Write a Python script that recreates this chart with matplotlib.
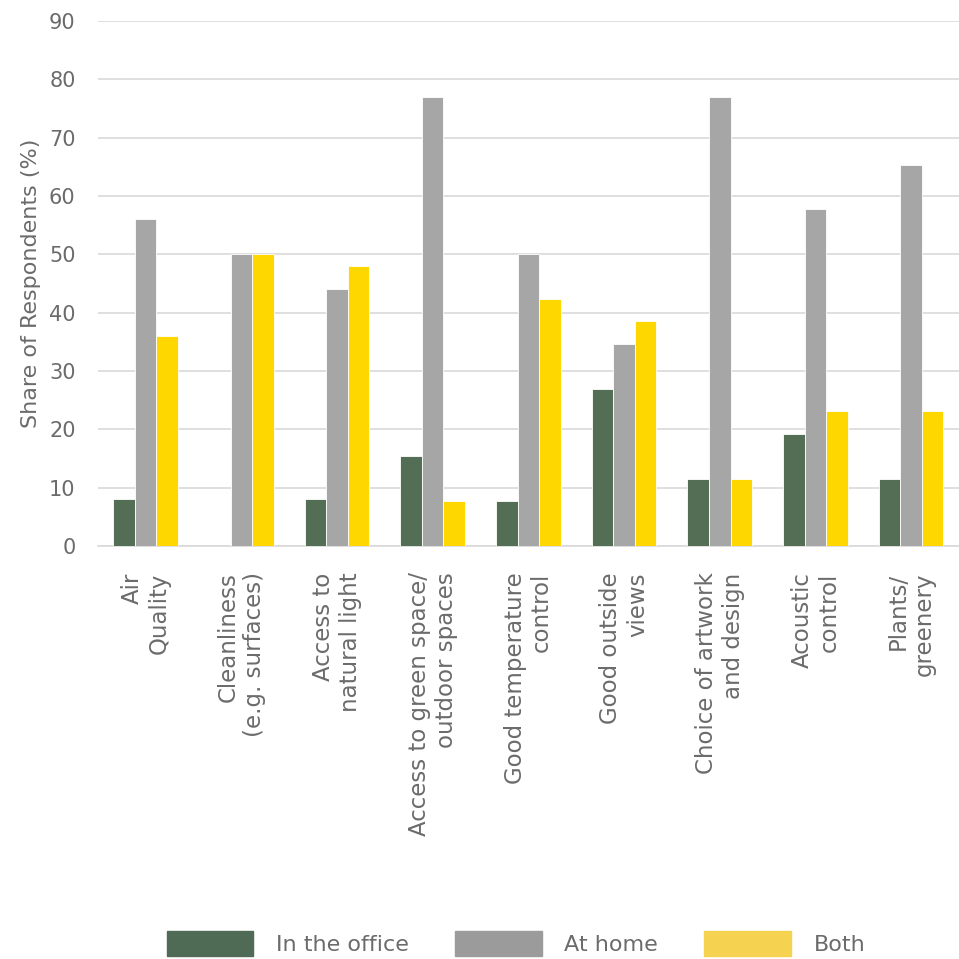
import matplotlib
matplotlib.use('Agg')
import matplotlib.pyplot as plt
from matplotlib.patches import Patch
import numpy as np

plt.rcParams['font.family'] = ['DejaVu Sans']

categories = ['Air\nQuality', 'Cleanliness\n(e.g. surfaces)', 'Access to\nnatural light',
              'Access to green space/\noutdoor spaces', 'Good temperature\ncontrol',
              'Good outside\nviews', 'Choice of artwork\nand design', 'Acoustic\ncontrol',
              'Plants/\ngreenery']
office = [8.0, 0.0, 8.0, 15.4, 7.7, 26.9, 11.5, 19.2, 11.5]
home = [56.0, 50.0, 44.0, 77.0, 50.0, 34.6, 77.0, 57.7, 65.4]
both = [36.0, 50.0, 48.0, 7.7, 42.3, 38.5, 11.5, 23.1, 23.1]
series_names = ['In the office', 'At home', 'Both']
y_ticks = [0, 10, 20, 30, 40, 50, 60, 70, 80, 90]

bar_cols = ['#536E55', '#A6A6A6', '#FFD700']
leg_cols = ['#4F6A55', '#9B9B9B', '#F5D350']
txt_col = '#6B6B6B'
grid_col = '#D9D9D9'

fig = plt.figure(figsize=(9.59, 9.59), dpi=100)
ax = fig.add_axes([0.102, 0.4306, 0.898, 0.5474])

x = np.arange(len(categories))
w = 0.225
for i, vals in enumerate([office, home, both]):
    ax.bar(x + (i - 1) * w, vals, w, color=bar_cols[i], edgecolor='white',
           linewidth=0.6, zorder=3)

ax.set_xlim(-0.5, len(categories) - 0.5)
ax.set_ylim(0, 90)
ax.set_yticks(y_ticks)
ax.yaxis.grid(True, color=grid_col, linewidth=1.2, zorder=0)
for s in ['top', 'right', 'left']:
    ax.spines[s].set_visible(False)
ax.spines['bottom'].set_color(grid_col)
ax.spines['bottom'].set_linewidth(1.2)
ax.tick_params(axis='both', length=0, colors=txt_col, labelsize=15)
ax.tick_params(axis='y', pad=16)
ax.set_xticks(x)
ax.set_xticklabels(categories, rotation=90, ha='center', va='top',
                   multialignment='right', linespacing=1.2)
ax.tick_params(axis='x', pad=19, labelsize=16.5)
ax.set_ylabel('Share of Respondents (%)', color=txt_col, fontsize=16, labelpad=6)

handles = [Patch(color=c) for c in leg_cols]
fig.legend(handles, series_names, loc='lower center', ncol=3,
           bbox_to_anchor=(0.538, -0.008), frameon=False, fontsize=16,
           handlelength=3.9, handleheight=1.3, handletextpad=1.0,
           columnspacing=2.1, labelcolor=txt_col, borderpad=0)

fig.savefig('out.png', dpi=100, facecolor='white')
